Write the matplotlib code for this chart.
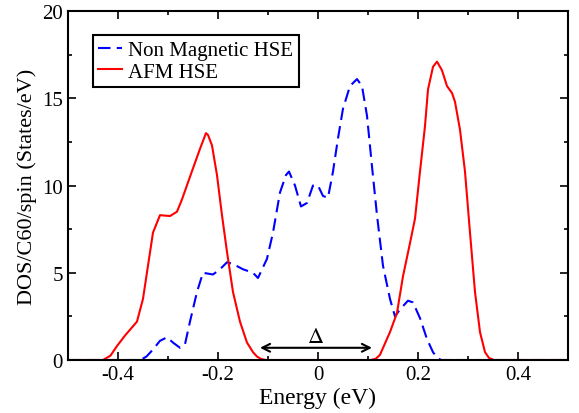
import matplotlib
matplotlib.use("Agg")
import matplotlib.pyplot as plt
from matplotlib.ticker import MultipleLocator

plt.rcParams['font.family'] = ['Liberation Serif', 'DejaVu Serif']
plt.rcParams['mathtext.fontset'] = 'stix'

# Non Magnetic HSE (blue dashed)
nm_energy = [-0.5, -0.355, -0.343, -0.33, -0.316, -0.302, -0.29, -0.276, -0.266, -0.256, -0.242,
             -0.23, -0.21, -0.196, -0.182, -0.17, -0.15, -0.13, -0.12, -0.102, -0.09,
             -0.076, -0.064, -0.058, -0.046, -0.034, -0.022, -0.01, 0.0, 0.01, 0.02, 0.03,
             0.04, 0.05, 0.064, 0.078, 0.088, 0.098, 0.108, 0.118, 0.13, 0.144,
             0.154, 0.164, 0.18, 0.19, 0.204, 0.218, 0.23, 0.238, 0.246, 0.5]
nm_dos = [0.0, 0.0, 0.2, 0.6, 1.1, 1.3, 1.0, 0.7, 0.9, 2.2, 3.9,
          5.0, 4.9, 5.2, 5.6, 5.5, 5.2, 5.0, 4.7, 5.8, 7.3,
          9.6, 10.6, 10.8, 10.0, 8.8, 9.0, 10.0, 10.0, 9.4, 9.3, 10.8,
          12.7, 14.4, 15.7, 16.1, 15.7, 14.0, 11.1, 8.3, 5.4, 3.5,
          2.5, 2.9, 3.4, 3.3, 2.4, 1.2, 0.45, 0.15, 0.0, 0.0]

# AFM HSE (red solid)
afm_energy = [-0.5, -0.43, -0.415, -0.402, -0.386, -0.362, -0.35, -0.34, -0.33, -0.316, -0.296,
              -0.282, -0.272, -0.256, -0.236, -0.224, -0.22, -0.212, -0.202, -0.192, -0.182,
              -0.17, -0.156, -0.142, -0.13, -0.122, -0.114, -0.104,
              0.106, 0.116, 0.124, 0.144, 0.158, 0.17, 0.184, 0.194, 0.204, 0.214, 0.22,
              0.23, 0.238, 0.248, 0.258, 0.268, 0.274, 0.284, 0.294, 0.304, 0.314,
              0.324, 0.334, 0.342, 0.352, 0.5]
afm_dos = [0.0, 0.0, 0.25, 0.8, 1.4, 2.2, 3.5, 5.4, 7.3, 8.3, 8.25,
           8.5, 9.2, 10.5, 12.1, 13.0, 12.9, 12.3, 10.6, 8.3, 6.2,
           3.9, 2.2, 1.0, 0.45, 0.2, 0.06, 0.0,
           0.0, 0.08, 0.3, 1.6, 2.7, 4.8, 6.7, 8.1, 10.8, 13.4, 15.5,
           16.8, 17.1, 16.6, 15.7, 15.3, 14.8, 13.2, 10.8, 7.3, 3.9,
           1.6, 0.45, 0.12, 0.0, 0.0]

gap_start, gap_end, gap_y = -0.116, 0.108, 0.7

fig = plt.figure(figsize=(5.79, 4.14), dpi=100)
ax = fig.add_axes([0.1174, 0.128, 0.8636, 0.843])

ax.plot(nm_energy, nm_dos, color='#0000ff', lw=1.5, ls=(0, (6, 3)), label='Non Magnetic HSE')
ax.plot(afm_energy, afm_dos, color='#ff0000', lw=1.5, label='AFM HSE')

ax.annotate('', xy=(gap_start, gap_y), xytext=(gap_end, gap_y),
            arrowprops=dict(arrowstyle='<->', color='black', lw=1.5,
                            shrinkA=0, shrinkB=0, mutation_scale=14))
ax.text((gap_start + gap_end) / 2, 1.3, r'$\Delta$', ha='center', va='center', fontsize=16)

ax.set_xlim(-0.5, 0.5)
ax.set_ylim(0, 20)
ax.xaxis.set_major_locator(MultipleLocator(0.2))
ax.xaxis.set_minor_locator(MultipleLocator(0.1))
ax.yaxis.set_major_locator(MultipleLocator(5))
ax.yaxis.set_minor_locator(MultipleLocator(2.5))
ax.set_xticks([-0.4, -0.2, 0, 0.2, 0.4])
ax.set_xticklabels(['-0.4', '-0.2', '0', '0.2', '0.4'])
ax.tick_params(which='both', direction='in', top=True, right=True, width=1.2, labelsize=15)
ax.tick_params(which='major', length=6)
ax.tick_params(which='minor', length=3)
for s in ax.spines.values():
    s.set_linewidth(1.5)

ax.set_xlabel('Energy (eV)', fontsize=17, labelpad=2)
ax.set_ylabel('DOS/C60/spin (States/eV)', fontsize=16, labelpad=4)

leg = ax.legend(loc='upper left', bbox_to_anchor=(0.05, 0.931), fontsize=15,
                frameon=True, fancybox=False, edgecolor='black', framealpha=1,
                borderpad=0.25, labelspacing=0.1, handlelength=1.15, handletextpad=0.3,
                borderaxespad=0)
leg.get_frame().set_linewidth(1.5)

fig.savefig('out.png', dpi=100)
